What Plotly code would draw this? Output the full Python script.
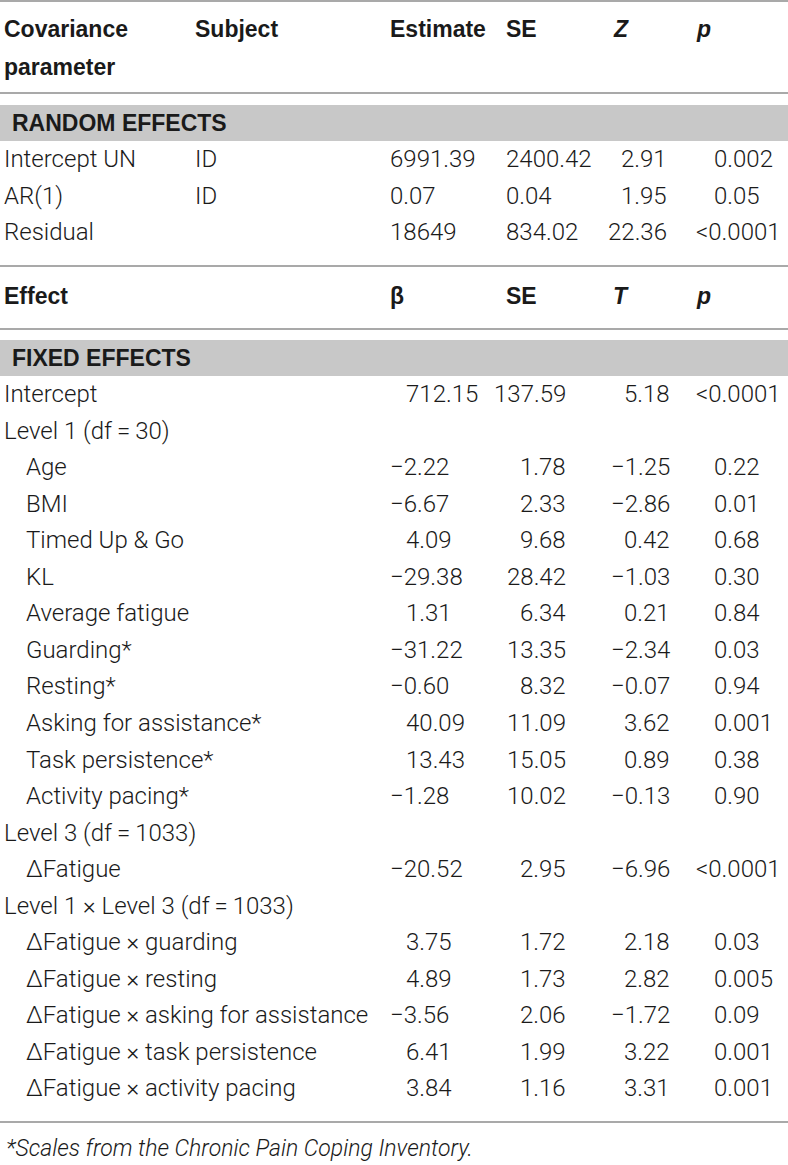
import plotly.graph_objects as go

# ---- random effects part ----
re_param = ["Intercept UN", "AR(1)", "Residual"]
re_subject = ["ID", "ID", ""]
re_estimate = ["6991.39", "0.07", "18649"]
re_se = ["2400.42", "0.04", "834.02"]
re_z = ["2.91", "1.95", "22.36"]
re_p = ["0.002", "0.05", "<0.0001"]

# ---- fixed effects part ----
fe_effect = [
    "Intercept",
    "Level 1 (df\u2009=\u200930)",
    "Age",
    "BMI",
    "Timed Up & Go",
    "KL",
    "Average fatigue",
    "Guarding*",
    "Resting*",
    "Asking for assistance*",
    "Task persistence*",
    "Activity pacing*",
    "Level 3 (df\u2009=\u20091033)",
    "\u0394Fatigue",
    "Level 1 \u00d7 Level 3 (df\u2009=\u20091033)",
    "\u0394Fatigue \u00d7 guarding",
    "\u0394Fatigue \u00d7 resting",
    "\u0394Fatigue \u00d7 asking for assistance",
    "\u0394Fatigue \u00d7 task persistence",
    "\u0394Fatigue \u00d7 activity pacing",
]
fe_indent = [0, 0, 1, 1, 1, 1, 1, 1, 1, 1, 1, 1, 0, 1, 0, 1, 1, 1, 1, 1]
fe_beta = ["712.15", "", "\u22122.22", "\u22126.67", "4.09", "\u221229.38", "1.31", "\u221231.22",
           "\u22120.60", "40.09", "13.43", "\u22121.28", "", "\u221220.52", "",
           "3.75", "4.89", "\u22123.56", "6.41", "3.84"]
fe_se = ["137.59", "", "1.78", "2.33", "9.68", "28.42", "6.34", "13.35", "8.32", "11.09",
         "15.05", "10.02", "", "2.95", "", "1.72", "1.73", "2.06", "1.99", "1.16"]
fe_t = ["5.18", "", "\u22121.25", "\u22122.86", "0.42", "\u22121.03", "0.21", "\u22122.34",
        "\u22120.07", "3.62", "0.89", "\u22120.13", "", "\u22126.96", "",
        "2.18", "2.82", "\u22121.72", "3.22", "3.31"]
fe_p = ["<0.0001", "", "0.22", "0.01", "0.68", "0.30", "0.84", "0.03", "0.94", "0.001",
        "0.38", "0.90", "", "<0.0001", "", "0.03", "0.005", "0.09", "0.001", "0.001"]

footnote = "*Scales from the Chronic Pain Coping Inventory."

W, H = 788, 1165
FONT = "Roboto, Liberation Sans, Arial, sans-serif"
BOLD_FONT = "Liberation Sans, Arial, sans-serif"
SIZE = 24
BOLD_SIZE = 23
INK = "#1a1a1a"
RULE = "#a9a9a9"
BAND = "#c8c8c8"
PITCH = 36.55

# column x positions (pixels)
X_LABEL, X_INDENT, X_SUBJ = 2, 24, 193
X_EST, X_EST_POS = 388, 404
X_SE, X_SE_R = 504, 568
X_Z_R, X_Z = 669, 611
X_P, X_P_LT = 712, 694

annotations = []


def txt(x, y, s, anchor="left", bold=False, italic=False, size=None):
    if not s:
        return
    if size is None:
        size = BOLD_SIZE if bold else SIZE
    annotations.append(dict(
        x=x, y=y, xref="x", yref="y", text=s, showarrow=False,
        xanchor=anchor, yanchor="middle",
        font=dict(family=BOLD_FONT if bold else FONT, size=size, color=INK,
                  weight="bold" if bold else 300,
                  style="italic" if italic else "normal"),
    ))


def p_x(s):
    return X_P_LT if s.startswith("<") else X_P


# header 1
hy = 29
txt(X_LABEL, hy, "Covariance", bold=True)
txt(X_LABEL, hy + 38, "parameter", bold=True)
txt(X_SUBJ, hy, "Subject", bold=True)
txt(X_EST, hy, "Estimate", bold=True)
txt(X_SE, hy, "SE", bold=True)
txt(X_Z, hy, "Z", bold=True, italic=True)
txt(X_P_LT, hy, "p", bold=True, italic=True)

txt(10, 123, "RANDOM EFFECTS", bold=True)

for i in range(len(re_param)):
    y = 159 + i * PITCH
    txt(X_LABEL, y, re_param[i])
    txt(X_SUBJ, y, re_subject[i])
    txt(X_EST, y, re_estimate[i])
    txt(X_SE, y, re_se[i])
    txt(X_Z_R, y, re_z[i], anchor="right")
    txt(p_x(re_p[i]), y, re_p[i])

# header 2
hy2 = 296
txt(X_LABEL, hy2, "Effect", bold=True)
txt(X_EST, hy2, "\u03b2", bold=True)
txt(X_SE, hy2, "SE", bold=True)
txt(X_Z, hy2, "T", bold=True, italic=True)
txt(X_P_LT, hy2, "p", bold=True, italic=True)

txt(10, 358, "FIXED EFFECTS", bold=True)

for i in range(len(fe_effect)):
    y = 394 + i * PITCH
    txt(X_INDENT if fe_indent[i] else X_LABEL, y, fe_effect[i])
    b = fe_beta[i]
    txt(X_EST if b.startswith("\u2212") else X_EST_POS, y, b)
    txt(X_SE_R, y, fe_se[i], anchor="right")
    txt(X_Z_R + 3, y, fe_t[i], anchor="right")
    txt(p_x(fe_p[i]), y, fe_p[i])

txt(4, 1148, footnote, italic=True, size=23)

shapes = []
for y in [1, 93, 266, 329, 1122]:
    shapes.append(dict(type="line", xref="paper", yref="y", x0=0, x1=1, y0=y, y1=y,
                       line=dict(color=RULE, width=2)))
for y0, y1 in [(105, 141), (340, 376)]:
    shapes.append(dict(type="rect", xref="paper", yref="y", x0=0, x1=1, y0=y0, y1=y1,
                       fillcolor=BAND, line=dict(width=0), layer="below"))

fig = go.Figure()
fig.update_layout(
    width=W, height=H,
    margin=dict(l=0, r=0, t=0, b=0),
    paper_bgcolor="white", plot_bgcolor="white",
    xaxis=dict(range=[0, W], visible=False, fixedrange=True),
    yaxis=dict(range=[H, 0], visible=False, fixedrange=True),
    annotations=annotations,
    shapes=shapes,
    showlegend=False,
)
# the page body has a default 8px margin, drop it so the figure fills the window
fig.write_html("out.html", config={"displayModeBar": False},
               post_script="document.body.style.margin='0';document.body.style.overflow='hidden';")
